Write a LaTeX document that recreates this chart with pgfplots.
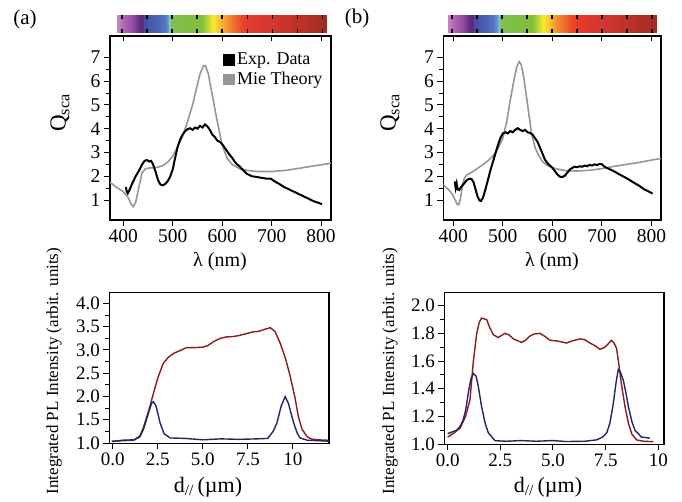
\documentclass[border=0pt]{standalone}
\usepackage{fontspec}
\setmainfont{Liberation Serif}
\usepackage{pgfplots}
\pgfplotsset{compat=1.18}
\definecolor{pgray}{RGB}{150,150,150}
\definecolor{pred}{RGB}{140,25,30}
\definecolor{pblue}{RGB}{32,38,105}

\pgfplotsset{
  common/.style={scale only axis, anchor=south west,
    /pgf/number format/assume math mode=true,
    axis line style={line width=1.1pt},
    tick style={black, line width=1pt},
    major tick length=6pt, minor tick length=4pt,
    tick align=outside, xtick pos=bottom, ytick pos=left,
    clip=true},
  qsca/.style={common,
    tick label style={font=\fontsize{19.5}{19.5}\selectfont},
    height=184pt, ymin=0.16, ymax=7.9, ytick={1,...,7}, minor y tick num=1,
    xtick={400,500,...,800}},
  topticks/.style={scale only axis, anchor=south west,
    height=184pt, ymin=0.16, ymax=7.9,
    axis x line*=top, axis y line=none, axis line style={draw=none},
    xtick={400,500,...,800}, xticklabels={}, tick align=inside,
    major tick length=5pt, tick style={black, line width=1pt}},
  plax/.style={common,
    tick label style={font=\fontsize{19}{19}\selectfont},
    xtick={0,2.5,5,7.5,10}, xticklabels={0.0,2.5,5.0,7.5,10},
    yticklabel style={/pgf/number format/.cd, fixed, fixed zerofill, precision=1},
    minor y tick num=1},
  specbar/.style={scale only axis, anchor=south west, height=17.5pt,
    ymin=0, ymax=1, ytick=\empty, xtick={400,450,...,800}, xticklabels={},
    tick align=inside, major tick length=4pt,
    tick style={black, line width=1.6pt},
    axis line style={draw=none}, axis on top,
    colormap={spec}{
      rgb255(0pt)=(200,135,200); rgb255(14pt)=(175,100,180); rgb255(29pt)=(150,80,165);
      rgb255(44pt)=(105,45,125); rgb255(51pt)=(85,45,120); rgb255(54pt)=(70,75,160);
      rgb255(79pt)=(75,100,180); rgb255(94pt)=(85,120,195); rgb255(100pt)=(100,150,210);
      rgb255(103pt)=(120,200,220); rgb255(106pt)=(130,190,90); rgb255(129pt)=(125,190,70);
      rgb255(169pt)=(130,190,60); rgb255(181pt)=(190,215,55); rgb255(191pt)=(248,235,45);
      rgb255(201pt)=(250,200,50); rgb255(214pt)=(245,160,50); rgb255(229pt)=(240,120,45);
      rgb255(249pt)=(235,70,40); rgb255(259pt)=(230,60,45); rgb255(309pt)=(210,55,45);
      rgb255(359pt)=(190,50,40); rgb255(417pt)=(160,45,35)},
    point meta min=391, point meta max=808},
}

\begin{document}
\begin{tikzpicture}
\useasboundingbox (0,0) rectangle (682pt,502pt);

% ---------- spectrum bars ----------
\begin{axis}[specbar, at={(117.3pt,469pt)}, width=209.4pt, xmin=391, xmax=808]
\addplot[surf, shader=interp, mesh/rows=2, point meta=x] coordinates {
(391,0) (405,0) (420,0) (435,0) (442,0) (445,0) (470,0) (485,0) (491,0) (494,0) (497,0) (520,0)
(560,0) (572,0) (582,0) (592,0) (605,0) (620,0) (640,0) (650,0) (700,0) (750,0) (808,0)

(391,1) (405,1) (420,1) (435,1) (442,1) (445,1) (470,1) (485,1) (491,1) (494,1) (497,1) (520,1)
(560,1) (572,1) (582,1) (592,1) (605,1) (620,1) (640,1) (650,1) (700,1) (750,1) (808,1)
};
\end{axis}
\begin{axis}[specbar, at={(448.3pt,469pt)}, width=208.4pt, xmin=393, xmax=810]
\addplot[surf, shader=interp, mesh/rows=2, point meta=x] coordinates {
(393,0) (405,0) (420,0) (435,0) (442,0) (445,0) (470,0) (485,0) (491,0) (494,0) (497,0) (520,0)
(560,0) (572,0) (582,0) (592,0) (605,0) (620,0) (640,0) (650,0) (700,0) (750,0) (810,0)

(393,1) (405,1) (420,1) (435,1) (442,1) (445,1) (470,1) (485,1) (491,1) (494,1) (497,1) (520,1)
(560,1) (572,1) (582,1) (592,1) (605,1) (620,1) (640,1) (650,1) (700,1) (750,1) (810,1)
};
\end{axis}

% ---------- (a) Q_sca ----------
\begin{axis}[qsca, at={(110pt,282pt)}, width=221pt, xmin=373, xmax=820,
  reverse legend, legend cell align=left,
  legend image code/.code={\fill[#1] (0pt,-5pt) rectangle (10pt,5pt);},
  legend style={at={(0.985,0.93)}, anchor=north east, draw=none, fill=none,
    font=\fontsize{18}{18}\selectfont, row sep=2pt}]
\addplot[pgray, line width=1.6pt] coordinates {
(373,1.75) (385,1.55) (400,1.35) (410,1.1) (415,0.85) (420,0.72) (425,0.9) (432,1.6)
(438,2.15) (445,2.32) (455,2.35) (470,2.38) (480,2.45) (490,2.6) (500,2.85) (510,3.25)
(520,3.7) (530,4.3) (540,5.0) (548,5.7) (555,6.3) (562,6.65) (566,6.65) (572,6.3)
(580,5.4) (590,4.3) (600,3.3) (610,2.75) (620,2.5) (635,2.32) (650,2.25) (670,2.2)
(700,2.2) (730,2.25) (760,2.35) (790,2.45) (820,2.55)};
\addlegendentry{Mie Theory}
\addplot[black, line width=2pt] coordinates {
(405,1.55) (407,1.35) (409,1.28) (412,1.4) (418,1.7) (425,2.0) (432,2.25) (438,2.5)
(443,2.65) (448,2.68) (452,2.62) (456,2.65) (460,2.5) (465,2.2) (470,1.85) (475,1.65)
(480,1.62) (485,1.68) (490,1.8) (495,2.0) (500,2.3) (505,2.8) (510,3.25) (515,3.55)
(520,3.75) (525,3.9) (530,3.98) (535,4.02) (540,3.95) (545,4.05) (550,4.0) (555,4.12)
(560,4.05) (565,4.18) (570,4.1) (575,3.95) (580,3.75) (585,3.65) (590,3.5) (595,3.45)
(600,3.35) (605,3.2) (610,3.05) (615,2.9) (620,2.78) (625,2.62) (630,2.5) (635,2.42)
(640,2.3) (645,2.2) (650,2.1) (655,2.05) (660,2.0) (670,1.97) (680,1.93) (690,1.9)
(698,1.9) (705,1.8) (715,1.68) (725,1.55) (735,1.45) (745,1.35) (755,1.25) (765,1.15)
(775,1.05) (785,0.95) (795,0.88) (802,0.82)};
\addlegendentry{Exp. Data}
\end{axis}
\begin{axis}[topticks, at={(110pt,282pt)}, width=221pt, xmin=373, xmax=820]
\end{axis}

% ---------- (b) Q_sca ----------
\begin{axis}[qsca, at={(443.3pt,282pt)}, width=217.7pt, xmin=380, xmax=819]
\addplot[pgray, line width=1.6pt] coordinates {
(380,1.63) (390,1.45) (398,1.25) (404,1.0) (408,0.82) (411,0.8) (414,1.0) (418,1.5)
(422,1.9) (427,2.05) (440,2.2) (455,2.42) (470,2.65) (480,2.85) (490,3.15) (500,3.6)
(508,4.3) (515,5.2) (522,6.0) (528,6.6) (533,6.82) (537,6.7) (542,6.2) (548,5.3)
(554,4.4) (558,3.8) (565,3.2) (572,2.9) (580,2.62) (590,2.45) (600,2.36) (615,2.28)
(630,2.23) (650,2.22) (675,2.25) (700,2.32) (725,2.42) (750,2.5) (775,2.58) (800,2.68)
(819,2.75)};
\addplot[black, line width=2pt] coordinates {
(403,1.78) (405,1.5) (407,1.7) (409,1.45) (412,1.42) (416,1.55) (422,1.7) (428,1.85)
(433,1.9) (437,1.88) (441,1.75) (445,1.45) (449,1.15) (453,0.98) (456,0.96) (460,1.1)
(465,1.45) (470,1.85) (475,2.25) (480,2.6) (485,2.95) (490,3.3) (495,3.6) (500,3.8)
(505,3.85) (510,3.8) (515,3.9) (520,3.85) (525,3.95) (530,4.02) (535,3.95) (540,3.9)
(545,3.95) (550,3.85) (555,3.82) (560,3.75) (565,3.6) (570,3.45) (575,3.2) (580,2.95)
(585,2.7) (590,2.55) (595,2.45) (600,2.35) (605,2.22) (610,2.08) (615,1.98) (620,1.97)
(625,2.02) (630,2.15) (635,2.28) (640,2.35) (645,2.4) (650,2.38) (655,2.42) (660,2.4)
(665,2.45) (670,2.42) (675,2.48) (680,2.45) (685,2.5) (690,2.47) (695,2.52) (700,2.5)
(705,2.4) (715,2.3) (725,2.2) (735,2.08) (745,1.97) (755,1.85) (765,1.72) (775,1.6)
(785,1.45) (795,1.35) (802,1.27)};
\end{axis}
\begin{axis}[topticks, at={(443.3pt,282pt)}, width=217.7pt, xmin=380, xmax=819]
\end{axis}

% ---------- (a) PL ----------
\begin{axis}[plax, at={(109.3pt,58.7pt)}, width=219.7pt, height=151pt,
  xmin=-0.19, xmax=12.0, ymin=0.995, ymax=4.24, ytick={1,1.5,...,4}]
\addplot[pred, line width=1.4pt] coordinates {
(-0.05,1.04) (0.5,1.05) (1.15,1.06) (1.5,1.15) (1.7,1.33) (2.0,1.7) (2.26,2.07) (2.5,2.4)
(2.8,2.71) (3.1,2.85) (3.4,2.93) (3.8,3.0) (4.1,3.05) (4.5,3.05) (5.0,3.06) (5.3,3.1)
(5.6,3.18) (5.96,3.25) (6.3,3.28) (6.7,3.29) (7.0,3.31) (7.4,3.35) (7.8,3.39) (8.1,3.4)
(8.4,3.44) (8.74,3.48) (9.0,3.4) (9.3,3.14) (9.6,2.8) (9.85,2.43) (10.1,2.0) (10.3,1.57)
(10.5,1.3) (10.78,1.14) (11.0,1.09) (11.33,1.07) (11.98,1.06)};
\addplot[pblue, line width=1.4pt] coordinates {
(-0.05,1.03) (0.5,1.06) (1.2,1.07) (1.5,1.13) (1.7,1.29) (1.95,1.6) (2.15,1.85) (2.26,1.89)
(2.4,1.8) (2.63,1.43) (2.85,1.2) (3.19,1.11) (4.0,1.10) (5.0,1.07) (6.0,1.09) (7.0,1.08)
(8.0,1.09) (8.6,1.1) (8.9,1.25) (9.11,1.43) (9.35,1.8) (9.57,2.0) (9.75,1.85) (10.04,1.43)
(10.25,1.2) (10.4,1.11) (10.8,1.06) (11.5,1.05) (12.0,1.04)};
\end{axis}

% ---------- (b) PL ----------
\begin{axis}[plax, at={(444.3pt,57.7pt)}, width=219.7pt, height=152pt,
  xmin=-0.16, xmax=10.27, ymin=0.998, ymax=2.097, ytick={1,1.2,...,2.01}]
\addplot[pred, line width=1.4pt] coordinates {
(0.0,1.05) (0.3,1.08) (0.59,1.115) (0.85,1.2) (1.06,1.32) (1.22,1.6) (1.38,1.8) (1.5,1.88)
(1.61,1.91) (1.85,1.9) (2.0,1.84) (2.17,1.79) (2.4,1.77) (2.72,1.80) (2.9,1.79) (3.12,1.76)
(3.51,1.735) (3.7,1.75) (3.9,1.78) (4.1,1.795) (4.38,1.80) (4.6,1.78) (4.86,1.75) (5.2,1.745)
(5.65,1.73) (5.9,1.745) (6.28,1.76) (6.5,1.755) (6.76,1.73) (7.0,1.71) (7.23,1.685) (7.47,1.70)
(7.78,1.75) (7.9,1.73) (8.02,1.69) (8.15,1.55) (8.26,1.42) (8.42,1.27) (8.58,1.15) (8.75,1.07)
(8.97,1.03) (9.3,1.02) (9.76,1.017)};
\addplot[pblue, line width=1.4pt] coordinates {
(0.0,1.075) (0.43,1.10) (0.6,1.13) (0.74,1.175) (0.86,1.25) (0.98,1.37) (1.1,1.47) (1.22,1.51)
(1.35,1.49) (1.45,1.42) (1.61,1.27) (1.78,1.15) (1.93,1.08) (2.25,1.024) (2.8,1.02) (3.5,1.025)
(4.2,1.02) (5.0,1.025) (5.6,1.018) (6.5,1.02) (7.07,1.03) (7.35,1.05) (7.55,1.08) (7.7,1.15)
(7.85,1.28) (8.0,1.45) (8.1,1.54) (8.2,1.52) (8.34,1.46) (8.45,1.38) (8.58,1.27) (8.75,1.16)
(8.89,1.10) (9.2,1.05) (9.6,1.043)};
\end{axis}

% ---------- labels ----------
\node[font=\fontsize{21}{21}\selectfont] at (25pt,483pt) {(a)};
\node[font=\fontsize{21}{21}\selectfont] at (357pt,484pt) {(b)};
\node[rotate=90, font=\fontsize{23}{23}\selectfont] at (60pt,389pt) {Q\textsubscript{sca}};
\node[rotate=90, font=\fontsize{23}{23}\selectfont] at (390pt,389pt) {Q\textsubscript{sca}};
\node[font=\fontsize{20}{20}\selectfont] at (220pt,240pt) {λ (nm)};
\node[font=\fontsize{20}{20}\selectfont] at (552pt,240pt) {λ (nm)};
\node[rotate=90, font=\fontsize{17}{17}\selectfont] at (54pt,131pt) {Integrated PL Intensity (arbit. units)};
\node[rotate=90, font=\fontsize{17}{17}\selectfont] at (390pt,131pt) {Integrated PL Intensity (arbit. units)};
\node[font=\fontsize{22}{22}\selectfont] at (208pt,15pt) {d\textsubscript{//}\,(µm)};
\node[font=\fontsize{22}{22}\selectfont] at (548pt,15pt) {d\textsubscript{//}\,(µm)};
\end{tikzpicture}
\end{document}
